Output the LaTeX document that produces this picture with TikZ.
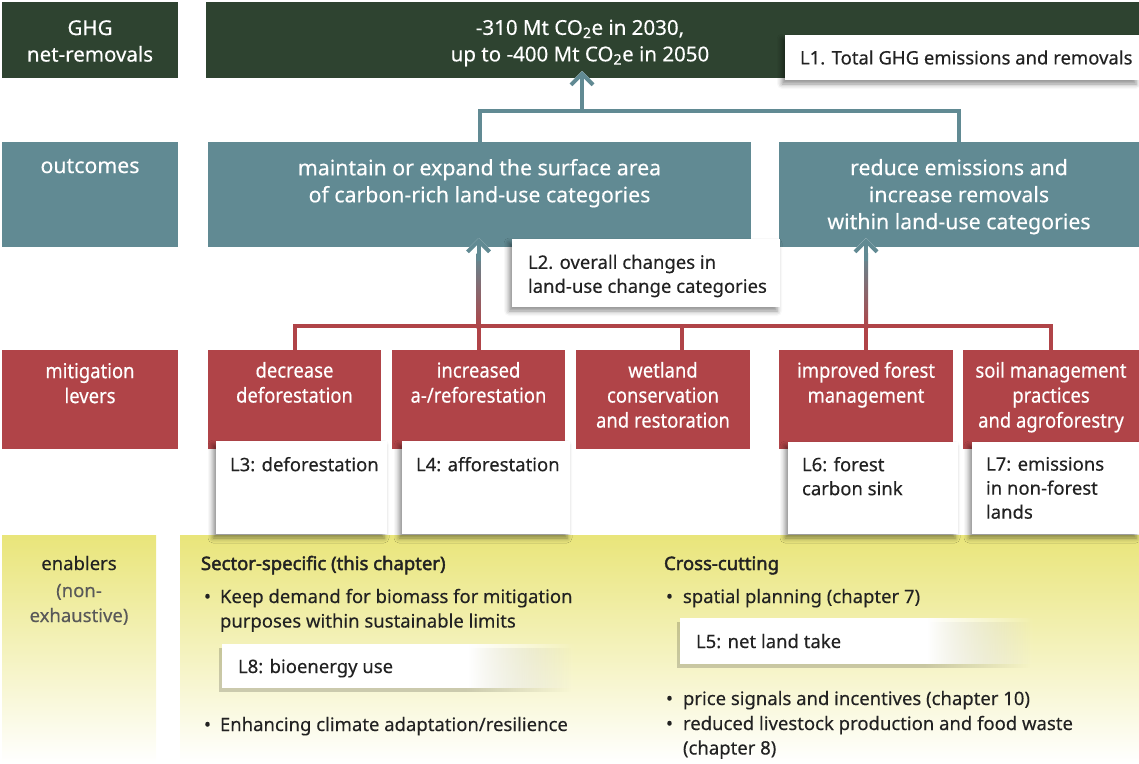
\documentclass[tikz,border=0pt]{standalone}
\usepackage{fontspec}
\setmainfont{Noto Sans}[UprightFeatures={FakeBold=0.3}]
\newfontfamily\headfont{Noto Sans}[FakeBold=2.2]
\newfontfamily\condfont{Noto Sans}[FakeStretch=0.9, FakeBold=0.4]
\usetikzlibrary{positioning,calc,arrows.meta,shadows.blur,fadings}

\definecolor{ghgcol}{RGB}{46,67,48}
\definecolor{outcol}{RGB}{97,138,147}
\definecolor{levcol}{RGB}{176,68,72}
\definecolor{enacol}{RGB}{233,229,122}
\definecolor{txtcol}{RGB}{34,34,34}

% white until most of the width, then fade out to the right
\pgfdeclarehorizontalshading{fadeshade}{100bp}{color(0bp)=(white); color(60bp)=(white); color(75bp)=(black); color(100bp)=(black)}
\pgfdeclarefading{fadeedge}{\pgfuseshading{fadeshade}}

\newcommand{\bitem}[2][16pt]{\makebox[#1][l]{\textbullet}\parbox[t]{440pt}{#2}}

\begin{document}
\begin{tikzpicture}[x=1pt,y=-1pt,
  every node/.style={inner sep=0pt, outer sep=0pt},
  box/.style 2 args={anchor=north west, minimum width=#1pt, minimum height=#2pt},
  wtxt/.style={text=white, align=center, font=\fontsize{20.5}{26.5}\selectfont},
  otxt/.style={wtxt, font=\fontsize{21.3}{27}\selectfont},
  rtxt/.style={wtxt, font=\fontsize{20.5}{25}\condfont},
  ltxt/.style={text=txtcol, align=left, font=\fontsize{18.5}{24}\selectfont},
  etxt/.style={text=txtcol, anchor=base west, font=\fontsize{18.5}{24.5}\selectfont},
  ehead/.style={etxt, font=\fontsize{18.5}{24.5}\headfont},
  lbox/.style 2 args={box={#1}{#2}, fill=white,
    blur shadow={shadow xshift=-3pt, shadow yshift=-4pt, shadow blur radius=5pt, shadow opacity=45}},
  tline/.style={draw=outcol, line width=4pt},
  rline/.style={draw=levcol, line width=4pt},
  arr/.style={-{Straight Barb[length=11pt, width=22pt, line width=4pt]},
    preaction={draw=white, line width=4pt, -{Straight Barb[length=11pt, width=22pt, line width=7pt]}}},
]
\useasboundingbox (0,0) rectangle (1139,763);

% GHG row
\node[box={176}{76}, fill=ghgcol] (ghglab) at (2,2) {};
\node[wtxt] (ghglab-t) at ($(ghglab)+(0,1)$) {GHG\\net-removals};
\node[box={933}{76}, fill=ghgcol] (ghg) at (206,2) {};
\node[wtxt] (ghg-t) at (580,43) {-310 Mt CO\textsubscript{2}e in 2030,\\up to -400 Mt CO\textsubscript{2}e in 2050};

% outcomes row
\node[box={176}{105}, fill=outcol] (outlab) at (2,142) {};
\node[otxt, below=17pt of outlab.north] (outlab-t) {outcomes};
\node[box={543}{105}, fill=outcol] (outA) at (208,142) {};
\node[otxt, below=17pt of outA.north] (outA-t) {maintain or expand the surface area\\of carbon-rich land-use categories};
\node[box={360}{105}, fill=outcol] (outB) at (779,142) {};
\node[otxt, below=17pt of outB.north] (outB-t) {reduce emissions and\\increase removals\\within land-use categories};

% outcomes -> GHG
\coordinate (tj) at (582,111);
\draw[tline] (outA.north) |- (tj) -| (outB.north);
\draw[tline, arr] (tj) -- ($(ghg.south -| tj)+(0,-7)$);
\node[lbox={354}{45}] (l1) at (785,35) {};
\node[ltxt, right=15pt of l1.west] (l1-t) {L1. Total GHG emissions and removals};

% mitigation levers row
\node[box={176}{99}, fill=levcol] (levlab) at (2,350) {};
\node[rtxt, below=13pt of levlab.north] (levlab-t) {mitigation\\levers};
\node[box={173}{99}, fill=levcol] (decr) at (208,350) {};
\node[rtxt, below=12pt of decr.north] (decr-t) {decrease\\deforestation};
\node[box={173}{99}, fill=levcol] (incr) at (392,350) {};
\node[rtxt, below=12pt of incr.north] (incr-t) {increased\\a-/reforestation};
\node[box={174}{99}, fill=levcol] (wet) at (576,350) {};
\node[rtxt, below=12pt of wet.north] (wet-t) {wetland\\conservation\\and restoration};
\node[box={174}{99}, fill=levcol] (impr) at (779,350) {};
\node[rtxt, below=12pt of impr.north] (impr-t) {improved forest\\management};
\node[box={176}{99}, fill=levcol] (soil) at (963,350) {};
\node[rtxt, below=12pt of soil.north] (soil-t) {soil management\\practices\\and agroforestry};

% levers -> outcomes
\coordinate (rj) at (478,326);
\draw[rline] (decr.north) |- (rj) -| (soil.north);
\draw[rline] (incr.north) -- (incr.north |- rj);
\draw[rline] ([xshift=19pt]wet.north) -- ([xshift=19pt]wet.north |- rj);
\draw[rline] (impr.north) -- (impr.north |- rj);
\shade[bottom color=levcol, top color=outcol] ($(incr.north |- rj)+(-2,2)$) rectangle ($(outA.south -| incr.north)+(2,6)$);
\shade[bottom color=levcol, top color=outcol] ($(impr.north |- rj)+(-2,2)$) rectangle ($(outB.south -| impr.north)+(2,6)$);
\draw[tline, arr] ($(outA.south -| incr.north)+(0,14)$) -- ($(outA.south -| incr.north)+(0,-9)$);
\draw[tline, arr] ($(outB.south -| impr.north)+(0,14)$) -- ($(outB.south -| impr.north)+(0,-9)$);
\node[lbox={268}{68}] (l2) at (512,239) {};
\node[ltxt, right=16pt of l2.west, yshift=-3pt] (l2-t) {L2. overall changes in\\land-use change categories};

% enablers row
\shade[top color=enacol, middle color=enacol!60, bottom color=white] (2,535) rectangle (156,763);
\shade[top color=enacol, middle color=enacol!60, bottom color=white] (180,535) rectangle (1139,763);
\node[etxt, anchor=base] (enalab-t) at (79,570) {enablers};
\node[etxt, anchor=base, text=txtcol!75] (enalab-t2) at (79,597) {(non-};
\node[etxt, anchor=base, text=txtcol!75] (enalab-t3) at (79,622) {exhaustive)};

% indicator boxes on the levers
\node[lbox={171}{93}] (l3) at (216,441) {};
\node[ltxt, below right=16pt and 14pt of l3.north west] (l3-t) {L3: deforestation};
\node[lbox={168}{93}] (l4) at (402,441) {};
\node[ltxt, below right=16pt and 14pt of l4.north west] (l4-t) {L4: afforestation};
\node[lbox={170}{92}] (l6) at (788,442) {};
\node[ltxt, below right=15pt and 14pt of l6.north west] (l6-t) {L6: forest\\carbon sink};
\node[lbox={167}{92}] (l7) at (972,442) {};
\node[ltxt, below right=15pt and 14pt of l7.north west] (l7-t) {L7: emissions\\in non-forest\\lands};

% sector-specific
\node[ehead] (sect-t) at (201,570) {Sector-specific (this chapter)};
\node[etxt] (sect-b1) at (204,603) {\bitem[16pt]{Keep demand for biomass for mitigation\\purposes within sustainable limits}};
\fill[black, opacity=0.18, path fading=fadeedge] (219,648) rectangle (571,692);
\fill[white, path fading=fadeedge] (222,644) rectangle (574,688);
\node[etxt] (l8-t) at (238,673) {L8: bioenergy use};
\node[etxt] (sect-b2) at (204,731) {\bitem[16pt]{Enhancing climate adaptation/resilience}};

% cross-cutting
\node[ehead] (cross-t) at (664,570) {Cross-cutting};
\node[etxt] (cross-b1) at (666,603) {\bitem[17pt]{spatial planning (chapter 7)}};
\fill[black, opacity=0.18, path fading=fadeedge] (677,622) rectangle (1030,668);
\fill[white, path fading=fadeedge] (680,618) rectangle (1033,664);
\node[etxt] (l5-t) at (696,648) {L5: net land take};
\node[etxt] (cross-b2) at (666,705) {\bitem[17pt]{price signals and incentives (chapter 10)}};
\node[etxt] (cross-b3) at (666,730) {\bitem[17pt]{reduced livestock production and food waste\\(chapter 8)}};
\end{tikzpicture}
\end{document}
